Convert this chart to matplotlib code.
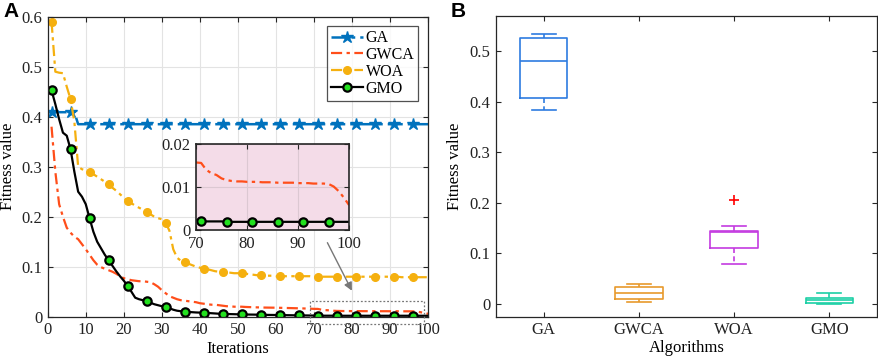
import matplotlib
matplotlib.use("Agg")
import matplotlib.pyplot as plt
from matplotlib.ticker import FuncFormatter, MultipleLocator

plt.rcParams['font.family'] = ['Liberation Serif', 'DejaVu Serif']

# ---------------- data ----------------
iterations = list(range(1, 101))

ga = [0.409] * 7 + [0.385] * 93

gwca = [0.380, 0.290, 0.225, 0.200, 0.178, 0.168, 0.160, 0.155, 0.145, 0.135,
        0.124, 0.113, 0.104, 0.099, 0.096, 0.093, 0.090, 0.086, 0.081, 0.077,
        0.075, 0.073, 0.072, 0.071, 0.071, 0.070, 0.069, 0.065, 0.060, 0.053,
        0.047, 0.041, 0.038, 0.035, 0.033, 0.032, 0.031, 0.030, 0.029, 0.027,
        0.026, 0.025, 0.024, 0.024, 0.023, 0.022, 0.021, 0.021, 0.020, 0.020,
        0.020, 0.0195, 0.0192, 0.019, 0.0187, 0.0185, 0.0183, 0.0182, 0.0181, 0.018,
        0.0178, 0.0176, 0.0174, 0.0172, 0.017, 0.0168, 0.0166, 0.0163, 0.016, 0.0157,
        0.0156, 0.0140, 0.0132, 0.0128, 0.0120, 0.0116, 0.0114, 0.0113, 0.0113, 0.0112,
        0.0112, 0.0112, 0.0111, 0.0111, 0.0111, 0.0110, 0.0110, 0.0110, 0.0110, 0.0109,
        0.0109, 0.0109, 0.0108, 0.0108, 0.0108, 0.0107, 0.0101, 0.0090, 0.0075, 0.0058]

woa = [0.590, 0.490, 0.488, 0.487, 0.460, 0.435, 0.390, 0.300, 0.295, 0.292,
       0.289, 0.285, 0.280, 0.275, 0.270, 0.265, 0.258, 0.252, 0.245, 0.238,
       0.231, 0.227, 0.222, 0.218, 0.214, 0.210, 0.205, 0.200, 0.197, 0.195,
       0.188, 0.172, 0.135, 0.118, 0.112, 0.110, 0.106, 0.103, 0.100, 0.098,
       0.096, 0.095, 0.093, 0.091, 0.090, 0.089, 0.088, 0.088, 0.087, 0.087,
       0.087, 0.086, 0.085, 0.084, 0.083, 0.083, 0.082, 0.082, 0.082, 0.081,
       0.081, 0.081, 0.081, 0.081, 0.081, 0.081, 0.081, 0.081, 0.081, 0.080,
       0.080, 0.080, 0.080, 0.080, 0.080, 0.080, 0.080, 0.080, 0.080, 0.080,
       0.080, 0.080, 0.080, 0.080, 0.080, 0.080, 0.080, 0.080, 0.080, 0.080,
       0.080, 0.080, 0.079, 0.079, 0.079, 0.079, 0.079, 0.079, 0.079, 0.079]

gmo = [0.453, 0.425, 0.395, 0.368, 0.362, 0.335, 0.290, 0.250, 0.240, 0.225,
       0.197, 0.170, 0.150, 0.137, 0.124, 0.113, 0.102, 0.091, 0.081, 0.072,
       0.062, 0.050, 0.038, 0.035, 0.033, 0.031, 0.028, 0.025, 0.023, 0.021,
       0.020, 0.017, 0.014, 0.012, 0.011, 0.010, 0.0095, 0.009, 0.0085, 0.0082,
       0.008, 0.0075, 0.007, 0.0065, 0.006, 0.0057, 0.0055, 0.0052, 0.005, 0.0048,
       0.0046, 0.0044, 0.0043, 0.0042, 0.0041, 0.004, 0.0038, 0.0036, 0.0035, 0.0034,
       0.0033, 0.0032, 0.0030, 0.0029, 0.0028, 0.0027, 0.0026, 0.0025, 0.0024, 0.0023,
       0.0020, 0.0020, 0.0020, 0.0020, 0.0020, 0.0019, 0.0019, 0.0019, 0.0019, 0.0019,
       0.0019, 0.0019, 0.0019, 0.0019, 0.0019, 0.0019, 0.0019, 0.0019, 0.0019, 0.0019,
       0.0019, 0.0019, 0.0019, 0.0019, 0.0019, 0.0019, 0.0019, 0.0019, 0.0019, 0.0019]

algorithms = ["GA", "GWCA", "WOA", "GMO"]
# box statistics: whisker low, q1, median, q3, whisker high, outliers
box_whislo = [0.384, 0.005, 0.079, 0.0007]
box_q1 = [0.408, 0.009, 0.110, 0.002]
box_med = [0.481, 0.021, 0.142, 0.008]
box_q3 = [0.525, 0.033, 0.144, 0.0125]
box_whishi = [0.534, 0.040, 0.155, 0.021]
box_fliers = [[], [], [0.206], []]

# ---------------- styling ----------------
c_ga = '#0072BD'
c_gwca = '#FF4E1A'
c_woa = '#F5B00F'
c_gmo = 'black'
box_colors = ['#2E7BE0', '#E89A2C', '#C43BE0', '#1DCFA6']
spine_c = '#262626'
tick_fs = 12
label_fs = 12

fig = plt.figure(figsize=(8.79, 3.59), dpi=100)

fmt = FuncFormatter(lambda v, p: '%g' % round(v, 6))


def style_axes(ax, fs=tick_fs):
    for s in ax.spines.values():
        s.set_color(spine_c)
        s.set_linewidth(0.9)
    ax.tick_params(direction='in', which='both', top=True, right=True,
                   labelsize=fs, colors=spine_c, length=3.5, width=0.8, pad=4)
    for lab in ax.get_xticklabels() + ax.get_yticklabels():
        lab.set_color('#222222')


marks = list(range(0, 100, 5))

# ---------------- Panel A ----------------
axA = fig.add_axes([0.0543, 0.1178, 0.4327, 0.8357])
axA.plot(iterations, ga, color=c_ga, ls='-.', lw=1.8, marker='*', ms=9,
         markevery=marks, label='GA', dashes=(6, 2, 1.5, 2))
axA.plot(iterations, gwca, color=c_gwca, ls='-.', lw=1.6, label='GWCA',
         dashes=(5, 2, 1.5, 2))
axA.plot(iterations, woa, color=c_woa, ls='-.', lw=1.6, marker='o', ms=5.5,
         markevery=marks, label='WOA', dashes=(5, 2, 1.5, 2))
axA.plot(iterations, gmo, color=c_gmo, ls='-', lw=1.6, marker='o', ms=6,
         mfc='#22E01E', mec='black', mew=1.6, markevery=marks, label='GMO')
axA.set_xlim(0, 100)
axA.set_ylim(0, 0.6)
axA.xaxis.set_major_locator(MultipleLocator(10))
axA.yaxis.set_major_locator(MultipleLocator(0.1))
axA.yaxis.set_major_formatter(fmt)
axA.grid(True, color='#E3E3E3', lw=0.8)
axA.set_axisbelow(True)
axA.set_xlabel('Iterations', fontsize=label_fs, labelpad=2)
axA.set_ylabel('Fitness value', fontsize=label_fs, labelpad=4)
style_axes(axA)
leg = axA.legend(loc='upper right', fontsize=11.5, frameon=True, fancybox=False,
                 edgecolor=spine_c, handlelength=2.0, handletextpad=0.2,
                 borderpad=0.25, labelspacing=0.05, borderaxespad=0.6)
leg.get_frame().set_linewidth(0.9)

# zoom rectangle & arrow
rect = plt.Rectangle((69, -0.0145), 30, 0.046, fill=False, ec='#777777',
                     ls=(0, (1.5, 1.5)), lw=0.9, clip_on=False, zorder=5)
axA.add_patch(rect)
axA.annotate('', xy=(80.3, 0.047), xytext=(73.2, 0.153),
             arrowprops=dict(arrowstyle='-|>', color='#777777', lw=1.0,
                             mutation_scale=12))

# inset
axI = fig.add_axes([0.2230, 0.3593, 0.1741, 0.2396])
axI.set_facecolor('#F4DCE8')
axI.plot(iterations, gwca, color=c_gwca, ls='-.', lw=1.6, dashes=(5, 2, 1.5, 2))
axI.plot(iterations, gmo, color=c_gmo, ls='-', lw=1.6, marker='o', ms=6,
         mfc='#22E01E', mec='black', mew=1.6, markevery=marks)
axI.set_xlim(70, 100)
axI.set_ylim(0, 0.02)
axI.set_xticks([70, 80, 90, 100])
axI.set_yticks([0, 0.01, 0.02])
axI.yaxis.set_major_formatter(fmt)
axI.grid(True, color='#DCC8D2', lw=0.8)
axI.set_axisbelow(True)
style_axes(axI)
for s in axI.spines.values():
    s.set_linewidth(1.2)

# ---------------- Panel B ----------------
axB = fig.add_axes([0.5643, 0.1178, 0.4334, 0.8376])
stats = []
for i, name in enumerate(algorithms):
    stats.append(dict(label=name, whislo=box_whislo[i], q1=box_q1[i],
                      med=box_med[i], q3=box_q3[i], whishi=box_whishi[i],
                      fliers=box_fliers[i]))
bp = axB.bxp(stats, positions=[1, 2, 3, 4], widths=0.5, showfliers=True,
             patch_artist=False)
for i in range(4):
    col = box_colors[i]
    bp['boxes'][i].set(color=col, lw=1.2)
    bp['medians'][i].set(color=col, lw=1.2)
    for w in bp['whiskers'][2 * i:2 * i + 2]:
        w.set(color=col, lw=1.2, ls=(0, (3, 2)))
    for c in bp['caps'][2 * i:2 * i + 2]:
        c.set(color=col, lw=1.2)
    bp['fliers'][i].set(marker='+', markeredgecolor='red', markersize=7, mew=1.2)
axB.set_xlim(0.5, 4.5)
axB.set_ylim(-0.025, 0.569)
axB.yaxis.set_major_locator(MultipleLocator(0.1))
axB.yaxis.set_major_formatter(fmt)
axB.set_xticks([1, 2, 3, 4])
axB.set_xticklabels(algorithms)
axB.set_xlabel('Algorithms', fontsize=label_fs, labelpad=1)
axB.set_ylabel('Fitness value', fontsize=label_fs, labelpad=5)
style_axes(axB)

# panel labels
fig.text(0.004, 0.995, 'A', fontsize=15, fontweight='bold', va='top', ha='left',
         family=['Liberation Sans', 'DejaVu Sans'])
fig.text(0.513, 0.995, 'B', fontsize=15, fontweight='bold', va='top', ha='left',
         family=['Liberation Sans', 'DejaVu Sans'])

fig.savefig('out.png', dpi=100)
